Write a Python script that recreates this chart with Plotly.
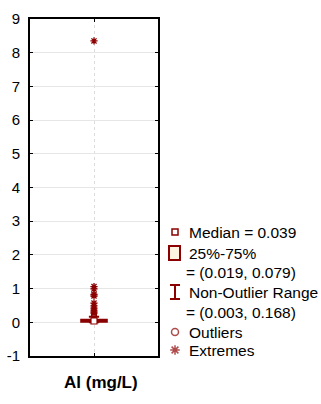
import plotly.graph_objects as go

# Summary statistics for Al (mg/L)
category = "Al (mg/L)"
median = 0.039
q1, q3 = 0.019, 0.079
non_outlier_min, non_outlier_max = 0.003, 0.168
outliers = [0.19, 0.21, 0.23]
extremes = [8.35, 1.06, 0.99, 0.83, 0.78, 0.57, 0.49, 0.42, 0.36, 0.31, 0.27]
y_ticks = list(range(-1, 10))
y_tick_labels = [str(v) for v in y_ticks]

RED = "#8b0000"
FILL = "#fdf3e0"
FONT = "Arial, Liberation Sans, sans-serif"

W, H = 321, 404
ML, MR, MT, MB = 30, 0, 19, 48
plot_w = W - ML - MR
plot_h = H - MT - MB
plot_right = 158  # right edge of the box-plot frame (px)

fig = go.Figure()

fig.add_trace(go.Box(
    x=[0], q1=[q1], median=[median], q3=[q3],
    lowerfence=[non_outlier_min], upperfence=[non_outlier_max],
    width=0.2, whiskerwidth=0.4,
    line=dict(color=RED, width=2), fillcolor=FILL,
    boxpoints=False, hoverinfo="skip", showlegend=False,
))
fig.add_trace(go.Scatter(
    x=[0] * len(outliers), y=outliers, mode="markers",
    marker=dict(symbol="circle-open", size=5, color=RED, line=dict(width=1.2)),
    showlegend=False,
))
fig.add_trace(go.Scatter(
    x=[0] * len(extremes), y=extremes, mode="markers",
    marker=dict(symbol="asterisk-open", size=6, color=RED, line=dict(width=1.3, color=RED)),
    showlegend=False,
))
fig.add_trace(go.Scatter(
    x=[0], y=[median], mode="markers",
    marker=dict(symbol="square", size=6, color="white", line=dict(width=1.2, color=RED)),
    showlegend=False,
))

# Legend, drawn on a second axis pair measured in pixels
leg_x = 175
rows = [232, 253, 292, 332, 350]
fig.add_trace(go.Scatter(
    x=[leg_x, leg_x], y=[rows[3], rows[4]], xaxis="x2", yaxis="y2", mode="markers",
    marker=dict(symbol=["circle-open", "asterisk-open"], size=[7, 8], color=RED,
                line=dict(width=1.5, color=RED)),
    showlegend=False, hoverinfo="skip", cliponaxis=False,
))
shapes = [
    dict(type="rect", xref="x2", yref="y2", x0=leg_x - 3, x1=leg_x + 3,
         y0=rows[0] - 3, y1=rows[0] + 3, line=dict(color=RED, width=1.5), fillcolor="white"),
    dict(type="rect", xref="x2", yref="y2", x0=leg_x - 6, x1=leg_x + 5,
         y0=rows[1] - 7, y1=rows[1] + 7, line=dict(color=RED, width=2), fillcolor=FILL),
    dict(type="line", xref="x2", yref="y2", x0=leg_x - 5, x1=leg_x + 5,
         y0=rows[2] - 7, y1=rows[2] - 7, line=dict(color=RED, width=2)),
    dict(type="line", xref="x2", yref="y2", x0=leg_x - 5, x1=leg_x + 5,
         y0=rows[2] + 7, y1=rows[2] + 7, line=dict(color=RED, width=2)),
    dict(type="line", xref="x2", yref="y2", x0=leg_x, x1=leg_x,
         y0=rows[2] - 7, y1=rows[2] + 7, line=dict(color=RED, width=2)),
]
legend_lines = [
    (187, 232, f"Median = {median:.3f}"),
    (187, 253, "25%-75%"),
    (184, 272, f"= ({q1:.3f}, {q3:.3f})"),
    (187, 292, "Non-Outlier Range"),
    (184, 312, f"= ({non_outlier_min:.3f}, {non_outlier_max:.3f})"),
    (187, 332, "Outliers"),
    (187, 350, "Extremes"),
]
annotations = [
    dict(x=x, y=y, xref="x2", yref="y2", text=t, showarrow=False,
         xanchor="left", yanchor="middle", font=dict(size=15.5, family=FONT, color="black"))
    for x, y, t in legend_lines
]
# Category title below the box-plot frame
annotations.append(dict(
    x=(101 - ML) / plot_w, y=(H - MB - 382) / plot_h, xref="paper", yref="paper",
    text=f"<b>{category}</b>", showarrow=False,
    xanchor="center", yanchor="middle", font=dict(size=17, family=FONT, color="black"),
))

fig.update_layout(
    width=W, height=H,
    margin=dict(l=ML, r=MR, t=MT, b=MB),
    paper_bgcolor="white", plot_bgcolor="rgba(0,0,0,0)",
    font=dict(family=FONT, size=15, color="black"),
    xaxis=dict(
        domain=[0, (plot_right - ML) / plot_w], range=[-0.5, 0.5],
        tickvals=[0], ticktext=[""], ticks="inside", ticklen=3, tickcolor="black",
        showgrid=True, gridcolor="#dcdcdc", griddash="dot", zeroline=False,
        showline=True, linecolor="black", linewidth=2, mirror="ticks",
        fixedrange=True,
    ),
    yaxis=dict(
        range=[-1, 9], tickvals=y_ticks, ticktext=y_tick_labels,
        ticks="inside", ticklen=3, tickcolor="black",
        showgrid=True, gridcolor="#e6e6e6", zeroline=False,
        showline=True, linecolor="black", linewidth=2, mirror="ticks",
        tickfont=dict(size=15), ticklabelstandoff=5,
    ),
    xaxis2=dict(domain=[0, 1], range=[ML, W - MR], anchor="y2", visible=False, fixedrange=True),
    yaxis2=dict(domain=[0, 1], range=[H - MB, MT], anchor="x2", visible=False, fixedrange=True),
    shapes=shapes, annotations=annotations,
)

fig.write_html("out.html")
